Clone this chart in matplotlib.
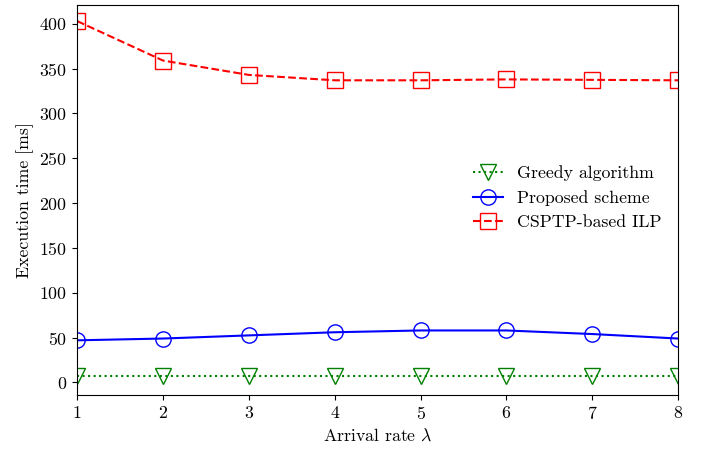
import matplotlib
matplotlib.use("Agg")
import matplotlib.pyplot as plt

plt.rcParams['font.family'] = 'serif'
plt.rcParams['font.serif'] = ['cmr10']
plt.rcParams['mathtext.fontset'] = 'cm'
plt.rcParams['axes.formatter.use_mathtext'] = True

rates = [1, 2, 3, 4, 5, 6, 7, 8]
greedy = [7, 7, 7, 7, 7, 7, 7, 7]
proposed = [47, 49, 52.5, 56, 58, 58, 54, 49]
ilp = [403, 359, 343, 337, 337, 338, 337.5, 337]

fig, ax = plt.subplots(figsize=(7.02, 4.53), dpi=100)
ax.plot(rates, greedy, ':', color='g', marker='v', markersize=11, mfc='none', mew=1.0, lw=1.5, label='Greedy algorithm')
ax.plot(rates, proposed, '-', color='b', marker='o', markersize=11, mfc='none', mew=1.0, lw=1.5, label='Proposed scheme')
ax.plot(rates, ilp, '--', color='r', marker='s', markersize=11, mfc='none', mew=1.0, lw=1.5, label='CSPTP-based ILP')

ax.set_xlim(1, 8)
ax.set_ylim(-14, 421)
ax.set_xticks(rates)
ax.set_yticks(range(0, 401, 50))
ax.tick_params(labelsize=12.8)
ax.set_xlabel(r'Arrival rate $\lambda$', fontsize=12.8)
ax.set_ylabel('Execution time [ms]', fontsize=12.8)
ax.legend(loc='center right', frameon=False, fontsize=12.8, handlelength=1.7,
          handletextpad=0.8, bbox_to_anchor=(0.999, 0.505))

plt.subplots_adjust(left=0.11, right=0.966, top=0.989, bottom=0.128)
plt.savefig('out.png')
